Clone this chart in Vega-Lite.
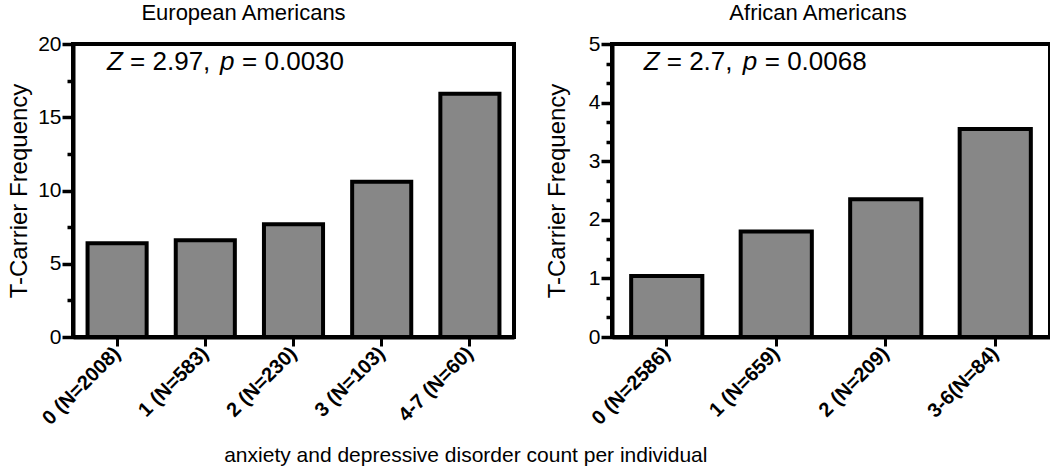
{
  "$schema": "https://vega.github.io/schema/vega-lite/v6.json",
  "padding": {"left": 5, "top": 0, "right": 0, "bottom": 0},
  "spacing": 27,
  "config": {
    "font": "Liberation Sans",
    "view": {"stroke": "black", "strokeWidth": 4},
    "axis": {"domainColor": "black", "domainWidth": 4, "tickColor": "black", "grid": false, "labelColor": "black", "titleColor": "black", "labelFont": "Liberation Sans", "titleFont": "Liberation Sans"},
    "title": {"color": "black", "font": "Liberation Sans", "fontWeight": "normal"}
  },
  "title": {"text": "anxiety and depressive disorder count per individual", "orient": "bottom", "fontSize": 21, "anchor": "middle", "dx": -63, "offset": 15},
  "datasets": {
    "ea": [
      {"group": "0 (N=2008)", "freq": 6.4},
      {"group": "1 (N=583)", "freq": 6.6},
      {"group": "2 (N=230)", "freq": 7.7},
      {"group": "3 (N=103)", "freq": 10.6},
      {"group": "4-7 (N=60)", "freq": 16.6}
    ],
    "aa": [
      {"group": "0 (N=2586)", "freq": 1.04},
      {"group": "1 (N=659)", "freq": 1.80},
      {"group": "2 (N=209)", "freq": 2.35},
      {"group": "3-6(N=84)", "freq": 3.55}
    ]
  },
  "hconcat": [
    {
      "width": 441,
      "height": 293,
      "title": {"text": "European Americans", "fontSize": 22, "anchor": "middle", "dx": -50, "offset": 8},
      "resolve": {"axis": {"y": "independent"}},
      "layer": [
        {
          "data": {"name": "ea"},
          "mark": {"type": "bar", "fill": "#878787", "stroke": "black", "strokeWidth": 4},
          "encoding": {
            "x": {"field": "group", "type": "nominal", "scale": {"domain": ["0 (N=2008)", "1 (N=583)", "2 (N=230)", "3 (N=103)", "4-7 (N=60)"], "paddingInner": 0.33, "paddingOuter": 0.165},
              "axis": {"title": null, "labelAngle": -45, "labelAlign": "right", "labelBaseline": "middle", "labelFontSize": 20, "labelFontWeight": "bold", "labelPadding": 4, "tickSize": 9, "tickWidth": 3, "domainWidth": 4}},
            "y": {"field": "freq", "type": "quantitative", "scale": {"domain": [0, 20], "nice": false},
              "axis": {"values": [0, 5, 10, 15, 20], "tickSize": 11, "tickWidth": 3.5, "labelFontSize": 21, "labelPadding": 1, "title": "T-Carrier Frequency", "titleFontSize": 24, "titleFontWeight": "normal", "titlePadding": 6}}
          }
        },
        {
          "data": {"values": [{"group": "0 (N=2008)", "ypos": 18.2, "label": "Z"}]},
          "mark": {"type": "text", "align": "left", "baseline": "alphabetic", "fontSize": 26, "fontStyle": "italic", "dx": -10},
          "encoding": {
            "x": {"field": "group", "type": "nominal"},
            "y": {"field": "ypos", "type": "quantitative", "axis": {"orient": "left", "values": [2.5, 7.5, 12.5, 17.5], "tickSize": 6, "tickWidth": 3.5, "labels": false, "domain": false, "title": null}},
            "text": {"field": "label"}
          }
        },
        {
          "data": {"values": [{"group": "0 (N=2008)", "ypos": 18.2, "label": "= 2.97,"}]},
          "mark": {"type": "text", "align": "left", "baseline": "alphabetic", "fontSize": 26, "dx": 13},
          "encoding": {
            "x": {"field": "group", "type": "nominal"},
            "y": {"field": "ypos", "type": "quantitative", "axis": null},
            "text": {"field": "label"}
          }
        },
        {
          "data": {"values": [{"group": "0 (N=2008)", "ypos": 18.2, "label": "p"}]},
          "mark": {"type": "text", "align": "left", "baseline": "alphabetic", "fontSize": 26, "fontStyle": "italic", "dx": 103},
          "encoding": {
            "x": {"field": "group", "type": "nominal"},
            "y": {"field": "ypos", "type": "quantitative", "axis": null},
            "text": {"field": "label"}
          }
        },
        {
          "data": {"values": [{"group": "0 (N=2008)", "ypos": 18.2, "label": "= 0.0030"}]},
          "mark": {"type": "text", "align": "left", "baseline": "alphabetic", "fontSize": 26, "dx": 125},
          "encoding": {
            "x": {"field": "group", "type": "nominal"},
            "y": {"field": "ypos", "type": "quantitative", "axis": null},
            "text": {"field": "label"}
          }
        }
      ]
    },
    {
      "width": 438,
      "height": 293,
      "title": {"text": "African Americans", "fontSize": 22, "anchor": "middle", "dx": -13, "offset": 8},
      "resolve": {"axis": {"y": "independent"}},
      "layer": [
        {
          "data": {"name": "aa"},
          "mark": {"type": "bar", "fill": "#878787", "stroke": "black", "strokeWidth": 4},
          "encoding": {
            "x": {"field": "group", "type": "nominal", "scale": {"domain": ["0 (N=2586)", "1 (N=659)", "2 (N=209)", "3-6(N=84)"], "paddingInner": 0.35, "paddingOuter": 0.175},
              "axis": {"title": null, "labelAngle": -45, "labelAlign": "right", "labelBaseline": "middle", "labelFontSize": 20, "labelFontWeight": "bold", "labelPadding": 4, "tickSize": 9, "tickWidth": 3, "domainWidth": 4}},
            "y": {"field": "freq", "type": "quantitative", "scale": {"domain": [0, 5], "nice": false},
              "axis": {"values": [0, 1, 2, 3, 4, 5], "tickSize": 11, "tickWidth": 3.5, "labelFontSize": 21, "labelPadding": 1, "title": "T-Carrier Frequency", "titleFontSize": 24, "titleFontWeight": "normal", "titlePadding": 19}}
          }
        },
        {
          "data": {"values": [{"group": "0 (N=2586)", "ypos": 4.56, "label": "Z"}]},
          "mark": {"type": "text", "align": "left", "baseline": "alphabetic", "fontSize": 26, "fontStyle": "italic", "dx": -23},
          "encoding": {
            "x": {"field": "group", "type": "nominal"},
            "y": {"field": "ypos", "type": "quantitative", "axis": {"orient": "left", "values": [0.333, 0.667, 1.333, 1.667, 2.333, 2.667, 3.333, 3.667, 4.333, 4.667], "tickSize": 6, "tickWidth": 3.5, "labels": false, "domain": false, "title": null}},
            "text": {"field": "label"}
          }
        },
        {
          "data": {"values": [{"group": "0 (N=2586)", "ypos": 4.56, "label": "= 2.7,"}]},
          "mark": {"type": "text", "align": "left", "baseline": "alphabetic", "fontSize": 26, "dx": 0},
          "encoding": {
            "x": {"field": "group", "type": "nominal"},
            "y": {"field": "ypos", "type": "quantitative", "axis": null},
            "text": {"field": "label"}
          }
        },
        {
          "data": {"values": [{"group": "0 (N=2586)", "ypos": 4.56, "label": "p"}]},
          "mark": {"type": "text", "align": "left", "baseline": "alphabetic", "fontSize": 26, "fontStyle": "italic", "dx": 76},
          "encoding": {
            "x": {"field": "group", "type": "nominal"},
            "y": {"field": "ypos", "type": "quantitative", "axis": null},
            "text": {"field": "label"}
          }
        },
        {
          "data": {"values": [{"group": "0 (N=2586)", "ypos": 4.56, "label": "= 0.0068"}]},
          "mark": {"type": "text", "align": "left", "baseline": "alphabetic", "fontSize": 26, "dx": 98},
          "encoding": {
            "x": {"field": "group", "type": "nominal"},
            "y": {"field": "ypos", "type": "quantitative", "axis": null},
            "text": {"field": "label"}
          }
        }
      ]
    }
  ]
}
